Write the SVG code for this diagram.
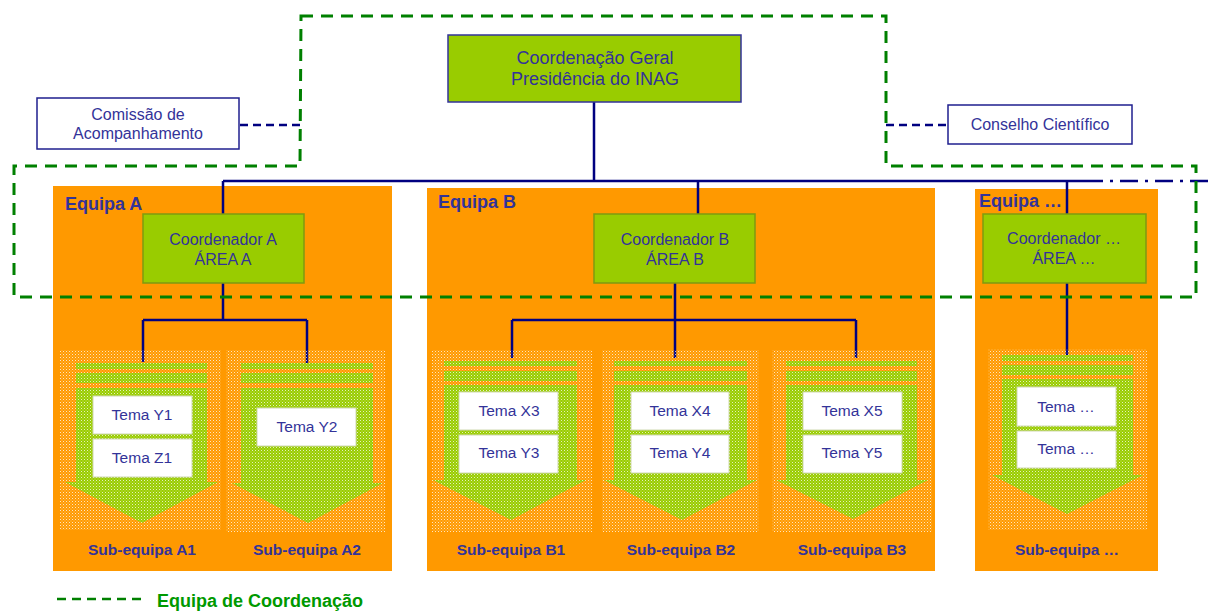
<svg xmlns="http://www.w3.org/2000/svg" width="1212" height="611" viewBox="0 0 1212 611">
<defs>
<pattern id="dots" width="3" height="3" patternUnits="userSpaceOnUse">
<rect x="0" y="0" width="1" height="1" fill="#ffffff" fill-opacity="0.75"/>
<rect x="1.5" y="1.5" width="1" height="1" fill="#ffffff" fill-opacity="0.45"/>
</pattern>
</defs>
<style>
text{font-family:"Liberation Sans",Arial,sans-serif;fill:#333399;text-anchor:middle}
.team{fill:#FF9900}
.teamlbl{font-weight:bold;font-size:18px;text-anchor:start}
.coord{fill:#99CC00;stroke:#7F9A10;stroke-width:1.5}
.ctext{font-size:16px}
.dotted{fill:url(#dots)}
.arrow{fill:#99CC00}
.tema{fill:#ffffff;stroke:#cfd8b0;stroke-width:1}
.ttext{font-size:15.5px}
.sub{font-weight:bold;font-size:15.5px}
.ext{fill:#ffffff;stroke:#1F1F8F;stroke-width:1.5}
.link{fill:none;stroke:#000080;stroke-width:2.5}
.dlink{fill:none;stroke:#000080;stroke-width:2.5;stroke-dasharray:8 5}
.ddlink{fill:none;stroke:#000080;stroke-width:2.5;stroke-dasharray:18 7 3 7}
.coordteam{fill:none;stroke:#008000;stroke-width:3;stroke-dasharray:12 8}
</style>

<!-- team backgrounds -->
<g id="equipa-a">
<rect class="team" x="53" y="186" width="339" height="385"/>
<text class="teamlbl" x="65" y="210">Equipa A</text>
</g>
<g id="equipa-b">
<rect class="team" x="427" y="188" width="508" height="383"/>
<text class="teamlbl" x="438" y="208">Equipa B</text>
</g>
<g id="equipa-n">
<rect class="team" x="975" y="189" width="183" height="382"/>
<text class="teamlbl" x="979" y="207">Equipa …</text>
</g>

<!-- connectors -->
<g id="connectors">
<path class="link" d="M594,102 V181 M223,181 H1085 M223,181 V214 M698,181 V218 M1067,181 V214"/>
<path class="ddlink" d="M1085,181 H1212"/>
<path class="link" d="M223,283 V320 M143,320 H307 M143,320 V362 M307,320 V363"/>
<path class="link" d="M675,283 V320 M512,320 H856 M512,320 V358 M675,320 V358 M856,320 V358"/>
<path class="link" d="M1067,283 V355"/>
<path class="dlink" d="M240,125 H300"/>
<path class="dlink" d="M886,125 H948"/>
</g>

<!-- top node -->
<g id="coord-geral">
<rect x="448" y="35" width="293" height="67" fill="#99CC00" stroke="#333399" stroke-width="1.5"/>
<text x="595" y="64" font-size="18">Coordenação Geral</text>
<text x="595" y="85" font-size="18">Presidência do INAG</text>
</g>

<g id="comissao">
<rect class="ext" x="37" y="98" width="202" height="51"/>
<text x="138" y="120" font-size="16">Comissão de</text>
<text x="138" y="139" font-size="16">Acompanhamento</text>
</g>

<g id="conselho">
<rect class="ext" x="948" y="105" width="184" height="39"/>
<text x="1040" y="130" font-size="16">Conselho Científico</text>
</g>

<!-- coordinators -->
<g id="coord-a">
<rect class="coord" x="143" y="214" width="161" height="69"/>
<text class="ctext" x="223" y="245">Coordenador A</text>
<text class="ctext" x="223" y="265">ÁREA A</text>
</g>
<g id="coord-b">
<rect class="coord" x="594" y="214" width="161" height="69"/>
<text class="ctext" x="675" y="245">Coordenador B</text>
<text class="ctext" x="675" y="265">ÁREA B</text>
</g>
<g id="coord-n">
<rect class="coord" x="983" y="214" width="163" height="69"/>
<text class="ctext" x="1064" y="244">Coordenador …</text>
<text class="ctext" x="1064" y="264">ÁREA …</text>
</g>

<!-- sub-teams -->
<g id="sub-a1">
<path class="arrow" d="M76,363 H207 V369 H76 Z M76,373 H207 V383 H76 Z M76,388 H207 V482 H218 L142,523 L65,482 H76 Z"/>
<rect class="dotted" x="60" y="350" width="161" height="180"/>
<rect class="tema" x="93" y="396" width="99" height="38"/>
<text class="ttext" x="142" y="420">Tema Y1</text>
<rect class="tema" x="93" y="439" width="99" height="38"/>
<text class="ttext" x="142" y="463">Tema Z1</text>
<text class="sub" x="142" y="555">Sub-equipa A1</text>
</g>
<g id="sub-a2">
<path class="arrow" d="M241,363 H373 V369 H241 Z M241,373 H373 V383 H241 Z M241,388 H373 V483 H383 L308,523 L232,483 H241 Z"/>
<rect class="dotted" x="226" y="350" width="159" height="182"/>
<rect class="tema" x="257" y="408" width="99" height="38"/>
<text class="ttext" x="307" y="432">Tema Y2</text>
<text class="sub" x="307" y="555">Sub-equipa A2</text>
</g>
<g id="sub-b1">
<path class="arrow" d="M444,361 H577 V366 H444 Z M444,371 H577 V381 H444 Z M444,385 H577 V480 H586 L511,520 L433,480 H444 Z"/>
<rect class="dotted" x="432" y="350" width="160" height="182"/>
<rect class="tema" x="459" y="392" width="99" height="38"/>
<text class="ttext" x="509" y="416">Tema X3</text>
<rect class="tema" x="459" y="435" width="99" height="38"/>
<text class="ttext" x="509" y="458">Tema Y3</text>
<text class="sub" x="511" y="555">Sub-equipa B1</text>
</g>
<g id="sub-b2">
<path class="arrow" d="M614,361 H747 V366 H614 Z M614,371 H747 V381 H614 Z M614,385 H747 V480 H757 L682,520 L604,480 H614 Z"/>
<rect class="dotted" x="602" y="350" width="157" height="182"/>
<rect class="tema" x="631" y="392" width="98" height="38"/>
<text class="ttext" x="680" y="416">Tema X4</text>
<rect class="tema" x="631" y="435" width="98" height="38"/>
<text class="ttext" x="680" y="458">Tema Y4</text>
<text class="sub" x="681" y="555">Sub-equipa B2</text>
</g>
<g id="sub-b3">
<path class="arrow" d="M786,361 H917 V366 H786 Z M786,371 H917 V381 H786 Z M786,385 H917 V480 H928 L853,519 L776,480 H786 Z"/>
<rect class="dotted" x="772" y="350" width="160" height="182"/>
<rect class="tema" x="803" y="392" width="99" height="38"/>
<text class="ttext" x="852" y="416">Tema X5</text>
<rect class="tema" x="803" y="435" width="99" height="38"/>
<text class="ttext" x="852" y="458">Tema Y5</text>
<text class="sub" x="852" y="555">Sub-equipa B3</text>
</g>
<g id="sub-n">
<path class="arrow" d="M1002,355 H1133 V361 H1002 Z M1002,365 H1133 V375 H1002 Z M1002,379 H1133 V475 H1143 L1067,514 L992,475 H1002 Z"/>
<rect class="dotted" x="988" y="349" width="159" height="181"/>
<rect class="tema" x="1017" y="387" width="99" height="39"/>
<text class="ttext" x="1066" y="412">Tema …</text>
<rect class="tema" x="1017" y="431" width="99" height="37"/>
<text class="ttext" x="1066" y="454">Tema …</text>
<text class="sub" x="1067" y="555">Sub-equipa …</text>
</g>

<!-- coordination team outline -->
<g id="equipa-coordenacao">
<path class="coordteam" d="M301,16 H886 V166 H1196 V297 H14 V166 H300 Z"/>
</g>

<!-- legend -->
<g id="legenda">
<line x1="57" y1="599" x2="147" y2="599" stroke="#008000" stroke-width="2.5" stroke-dasharray="9 6"/>
<text x="157" y="607" font-size="18" font-weight="bold" style="fill:#009900;text-anchor:start">Equipa de Coordenação</text>
</g>
</svg>
